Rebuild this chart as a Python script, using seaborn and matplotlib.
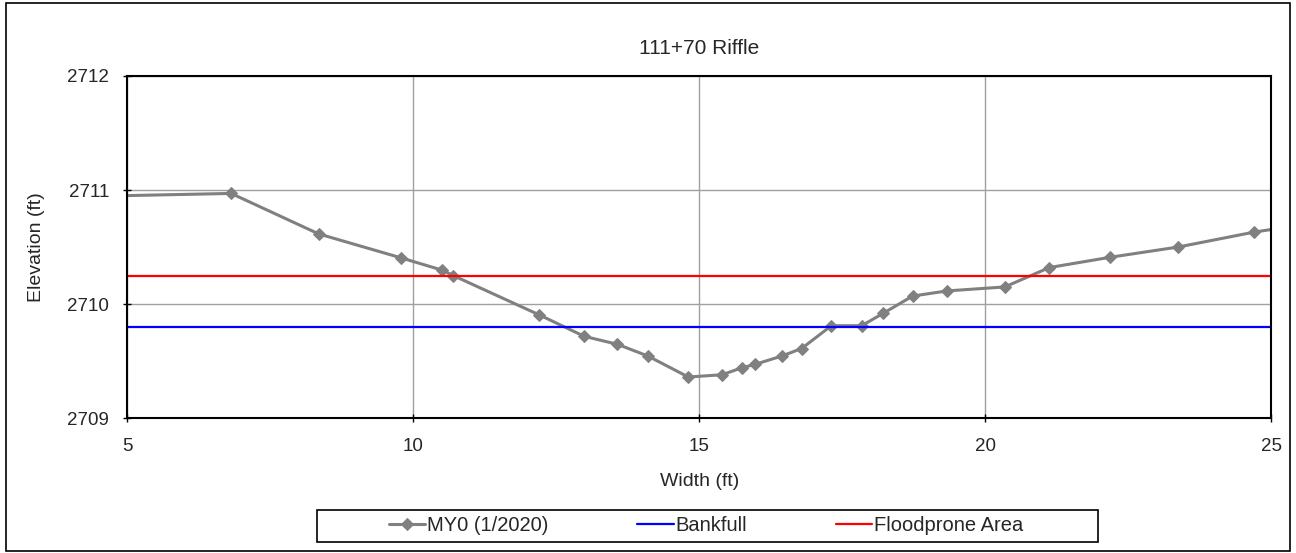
import seaborn as sns
import matplotlib.pyplot as plt
import pandas as pd
from matplotlib.patches import Rectangle

# Cross-section survey data
station = [3.0, 6.82, 8.35, 9.79, 10.51, 10.70, 12.20, 12.99, 13.57, 14.10, 14.81,
           15.40, 15.74, 15.97, 16.45, 16.79, 17.31, 17.84, 18.22, 18.73, 19.33,
           20.34, 21.12, 22.18, 23.37, 24.69, 26.5]
elevation = [2710.93, 2710.97, 2710.615, 2710.405, 2710.297, 2710.25, 2709.906, 2709.717,
             2709.647, 2709.545, 2709.36, 2709.38, 2709.44, 2709.47, 2709.545, 2709.61,
             2709.81, 2709.81, 2709.92, 2710.07, 2710.115, 2710.15, 2710.32, 2710.41,
             2710.50, 2710.63, 2710.77]
bankfull = 2709.80
floodprone = 2710.25
x_range = [5, 25]

df = pd.DataFrame({'Width': station, 'Elevation': elevation})
bf = pd.DataFrame({'Width': x_range, 'Elevation': [bankfull, bankfull]})
fp = pd.DataFrame({'Width': x_range, 'Elevation': [floodprone, floodprone]})

sns.set_style("white")
plt.rcParams['font.family'] = ['Liberation Sans', 'DejaVu Sans']

fig = plt.figure(figsize=(12.96, 5.53), dpi=100)
ax = fig.add_axes([0.098, 0.244, 0.883, 0.6186])

sns.lineplot(data=df, x='Width', y='Elevation', ax=ax, color='#808080', linewidth=2.2,
             marker='D', markersize=6.5, markeredgecolor='#808080', sort=False,
             label='MY0 (1/2020)')
sns.lineplot(data=bf, x='Width', y='Elevation', ax=ax, color='#0000ff', linewidth=1.6,
             label='Bankfull')
sns.lineplot(data=fp, x='Width', y='Elevation', ax=ax, color='#ff0000', linewidth=1.6,
             label='Floodprone Area')

ax.set_xlim(5, 25)
ax.set_ylim(2709, 2712)
ax.set_xticks([5, 10, 15, 20, 25])
ax.set_yticks([2709, 2710, 2711, 2712])
ax.grid(True, color='#a0a0a0', linewidth=1)
ax.tick_params(axis='both', direction='inout', length=6, width=1, color='black',
               labelsize=13.5, left=True, bottom=True)
ax.tick_params(axis='x', pad=11.5)
ax.tick_params(axis='y', pad=10)
for s in ax.spines.values():
    s.set_color('black')
    s.set_linewidth(1.5)

ax.set_xlabel('Width (ft)', fontsize=14, labelpad=13)
ax.set_ylabel('Elevation (ft)', fontsize=14, labelpad=16)
ax.set_title('111+70 Riffle', fontsize=15, pad=16)

ax.legend(loc='center', bbox_to_anchor=(0.545, 0.049), bbox_transform=fig.transFigure,
          ncol=3, fontsize=14.5, frameon=False, handlelength=1.8, handletextpad=0.1,
          columnspacing=4.4, borderpad=0.2)

# legend box and outer chart border
fig.patches.append(Rectangle((0.2446, 0.0204), 0.6026, 0.0573, transform=fig.transFigure,
                             fill=False, edgecolor='black', linewidth=1.2))
fig.patches.append(Rectangle((0.005, 0.004), 0.99, 0.99, transform=fig.transFigure,
                             fill=False, edgecolor='black', linewidth=1.2))

fig.savefig('out.png', dpi=100)
